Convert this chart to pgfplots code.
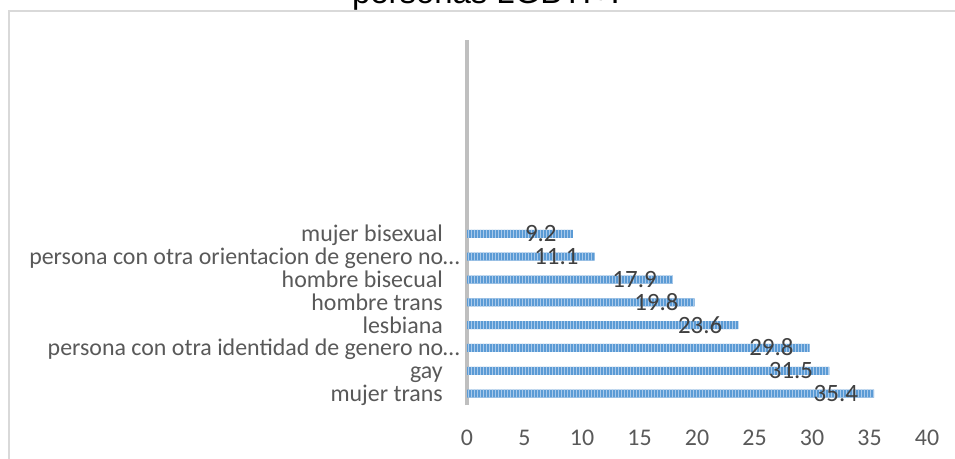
\documentclass[border=0pt]{standalone}
\usepackage{fontspec}
\setmainfont{Carlito}
\newfontfamily\titlefont{Liberation Sans}
\usepackage{pgfplots}
\pgfplotsset{compat=1.18}
\usetikzlibrary{patterns.meta}
\definecolor{barblue}{HTML}{5B9BD5}
\definecolor{barlight}{HTML}{A9C9EA}
\definecolor{axgray}{HTML}{BFBFBF}
\definecolor{lblgray}{HTML}{595959}
\definecolor{datgray}{HTML}{404040}
\definecolor{frame}{HTML}{D9D9D9}
\begin{document}
\begin{tikzpicture}
\useasboundingbox (0,0) rectangle (955bp,-459bp);
\clip (0,0) rectangle (955bp,-459bp);
\fill[white] (0,0) rectangle (955bp,-459bp);
\draw[frame, line width=1.2bp] (9bp,-11bp) rectangle (1000bp,-520bp);
\node[anchor=base, inner sep=0, font=\titlefont\fontsize{33}{38}\selectfont] at (486bp,-3bp) {personas LGBTI+.};
\begin{axis}[
  at={(467bp,-405bp)}, anchor=south west,
  scale only axis, width=460bp, height=365bp,
  xmin=0, xmax=40, ymin=-0.5, ymax=15.5,
  xbar, bar width=8bp,
  axis lines*=left,
  x axis line style={draw=none},
  y axis line style={draw=axgray, line width=4bp},
  major tick length=0pt,
  xtick={0,5,...,40},
  ytick={0,...,7},
  yticklabels={mujer trans\hspace*{17bp}, gay\hspace*{17bp}, persona con otra identidad de genero no…, lesbiana\hspace*{17bp}, hombre trans\hspace*{17bp}, hombre bisecual\hspace*{17bp}, persona con otra orientacion de genero no…, mujer bisexual\hspace*{17bp}},
  /pgf/number format/assume math mode=true,
  tick label style={font=\fontsize{24}{28}\selectfont, text=lblgray, inner sep=0pt},
  xticklabel style={anchor=base, yshift=-40bp},
  yticklabel style={anchor=base east, xshift=-7bp, yshift=-8bp},
  nodes near coords,
  nodes near coords style={anchor=base east, inner sep=0pt, xshift=-16bp, yshift=-8bp, text=datgray, font=\fontsize{25}{29}\selectfont},
  clip=false,
]
\addplot[draw=none, fill=barblue, postaction={pattern={Lines[angle=90,distance=3bp,line width=1bp]}, pattern color=barlight}] coordinates {
(35.4,0) (31.5,1) (29.8,2) (23.6,3) (19.8,4) (17.9,5) (11.1,6) (9.2,7)
};
\end{axis}
\end{tikzpicture}
\end{document}
